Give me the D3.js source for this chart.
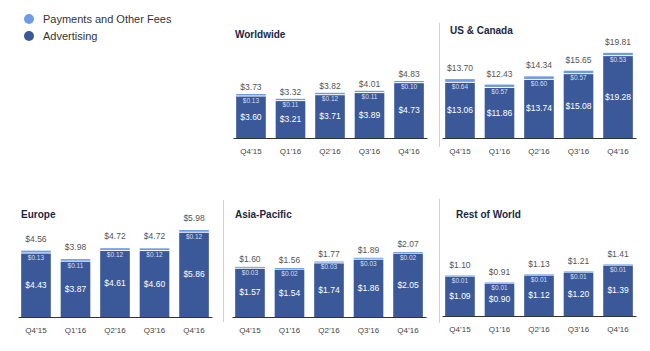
<!DOCTYPE html>
<html>
<head>
<meta charset="utf-8">
<script src="https://cdn.jsdelivr.net/npm/d3@7"></script>
<style>
  html, body { margin: 0; padding: 0; background: #fff; }
  svg { display: block; font-family: "Liberation Sans", Arial, Helvetica, sans-serif; }
</style>
</head>
<body>
<svg id="chart"></svg>
<script>
// ARPU by region, Q4'15 - Q4'16
const quarters = ['Q4’15', 'Q1’16', 'Q2’16', 'Q3’16', 'Q4’16'];
const regions = ['Worldwide', 'US & Canada', 'Europe', 'Asia-Pacific', 'Rest of World'];

const advertising = [
  [3.60, 3.21, 3.71, 3.89, 4.73],
  [13.06, 11.86, 13.74, 15.08, 19.28],
  [4.43, 3.87, 4.61, 4.60, 5.86],
  [1.57, 1.54, 1.74, 1.86, 2.05],
  [1.09, 0.90, 1.12, 1.20, 1.39]
];
const payments = [
  [0.13, 0.11, 0.12, 0.11, 0.10],
  [0.64, 0.57, 0.60, 0.57, 0.53],
  [0.13, 0.11, 0.12, 0.12, 0.12],
  [0.03, 0.02, 0.03, 0.03, 0.02],
  [0.01, 0.01, 0.01, 0.01, 0.01]
];
const totals = [
  [3.73, 3.32, 3.82, 4.01, 4.83],
  [13.70, 12.43, 14.34, 15.65, 19.81],
  [4.56, 3.98, 4.72, 4.72, 5.98],
  [1.60, 1.56, 1.77, 1.89, 2.07],
  [1.10, 0.91, 1.13, 1.21, 1.41]
];
const legendLabels = ['Payments and Other Fees', 'Advertising'];

const width = 650, height = 351;
const darkBlue = '#3b5998';
const lightBlue = '#6d9be6';

// panel layout (each panel has its own y scale)
const panels = [
  { x0: 233, baseline: 138, titleX: 235, titleY: 38, yMax: 8.05, gap: 4, sep: null },
  { x0: 442, baseline: 138, titleX: 450, titleY: 34, yMax: 22.1, gap: 8, sep: [439, 23, 147] },
  { x0: 18, baseline: 317, titleX: 21, titleY: 218, yMax: 6.53, gap: 9, sep: null },
  { x0: 232, baseline: 317, titleX: 235, titleY: 218, yMax: 3.03, gap: 5, sep: [223, 200, 322] },
  { x0: 442, baseline: 316, titleX: 456, titleY: 218, yMax: 2.58, gap: 7, sep: [439, 199, 323] }
];

const svg = d3.select('#chart')
  .attr('width', width)
  .attr('height', height)
  .attr('viewBox', `0 0 ${width} ${height}`);

const fmt = v => '$' + v.toFixed(2);

// Legend
const legendColors = [lightBlue, darkBlue];
legendLabels.forEach((label, i) => {
  const y = 19 + i * 17;
  svg.append('circle')
    .attr('cx', 29).attr('cy', y).attr('r', 5)
    .attr('fill', legendColors[i]);
  svg.append('text')
    .attr('x', 43).attr('y', y + 4)
    .attr('font-size', '11px')
    .attr('fill', '#333')
    .text(label);
});

regions.forEach((region, r) => {
  const p = panels[r];

  if (p.sep) {
    svg.append('line')
      .attr('x1', p.sep[0] + 0.5).attr('x2', p.sep[0] + 0.5)
      .attr('y1', p.sep[1]).attr('y2', p.sep[2])
      .attr('stroke', '#d0d0d0').attr('stroke-width', 1);
  }

  const x = d3.scaleBand()
    .domain(quarters)
    .range([p.x0, p.x0 + 194])
    .paddingInner(0.25)
    .paddingOuter(0.08);

  const y = d3.scaleLinear()
    .domain([0, p.yMax])
    .range([p.baseline, p.baseline - 95]);

  // Title
  svg.append('text')
    .attr('x', p.titleX).attr('y', p.titleY)
    .attr('font-size', '10px')
    .attr('font-weight', '700')
    .attr('fill', '#1b2745')
    .text(region);

  const g = svg.append('g');

  quarters.forEach((q, i) => {
    const ad = advertising[r][i];
    const pay = payments[r][i];
    const bx = x(q);
    const bw = x.bandwidth();
    const yAd = y(ad);
    const yTop = y(ad + pay);

    // payments segment
    g.append('rect')
      .attr('x', bx).attr('width', bw)
      .attr('y', yTop).attr('height', Math.max(yAd - yTop, 1))
      .attr('fill', lightBlue);

    // advertising segment (1px white gap above)
    g.append('rect')
      .attr('x', bx).attr('width', bw)
      .attr('y', yAd + 1).attr('height', p.baseline - yAd - 1)
      .attr('fill', darkBlue);

    // total label
    g.append('text')
      .attr('x', bx + bw / 2).attr('y', yTop - p.gap)
      .attr('text-anchor', 'middle')
      .attr('font-size', '8.5px')
      .attr('fill', '#555')
      .text(fmt(totals[r][i]));

    // payments label
    g.append('text')
      .attr('x', bx + bw / 2).attr('y', yAd + 7)
      .attr('text-anchor', 'middle')
      .attr('font-size', '6.5px')
      .attr('fill', '#d6ddf2')
      .text(fmt(pay));

    // advertising label
    g.append('text')
      .attr('x', bx + bw / 2).attr('y', (yAd + p.baseline) / 2 + 3)
      .attr('text-anchor', 'middle')
      .attr('font-size', '8.5px')
      .attr('fill', '#fff')
      .text(fmt(ad));
  });

  // X axis
  const axis = svg.append('g')
    .attr('transform', `translate(0, ${p.baseline})`)
    .call(d3.axisBottom(x).tickSize(0).tickSizeOuter(0).tickPadding(10));
  axis.select('.domain').attr('stroke', '#333').attr('stroke-width', 1.2);
  axis.selectAll('text')
    .attr('font-size', '8px')
    .attr('font-family', '"Liberation Sans", Arial, sans-serif')
    .attr('fill', '#444');
});
</script>
</body>
</html>
